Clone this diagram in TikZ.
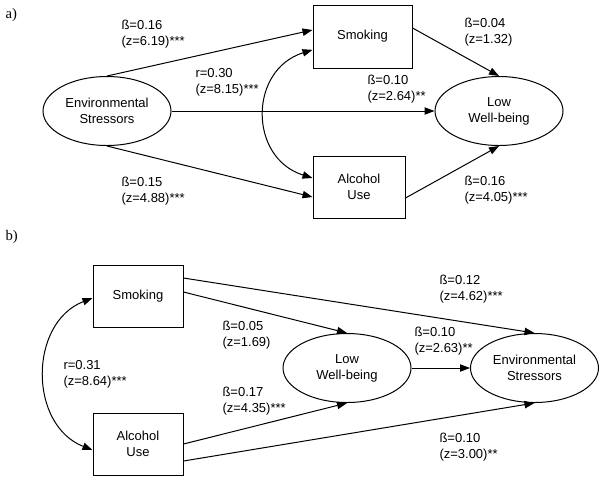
\documentclass[tikz,border=0pt]{standalone}
\usepackage{fontspec}
\setmainfont{Liberation Sans}
\newfontfamily\panelfont{Liberation Serif}
\usetikzlibrary{arrows.meta,shapes.geometric}

\tikzset{every picture/.style={line width=0.75pt}}
\tikzset{
  varbox/.style={draw, rectangle, align=center, inner sep=0pt, font=\fontsize{9.75}{12}\selectfont},
  varell/.style={draw, ellipse, align=center, inner sep=0pt, minimum width=96pt, minimum height=51.75pt, font=\fontsize{9.75}{12}\selectfont},
  coef/.style={anchor=west, inner sep=0.75pt, align=left, font=\fontsize{9.75}{12}\selectfont},
  panel/.style={anchor=west, inner sep=0.75pt, font=\panelfont\fontsize{11}{13}\selectfont},
  arr/.style={-{Triangle[length=7.5pt,width=5.5pt]}},
  covarr/.style={{Triangle[length=7.5pt,width=5.5pt]}-{Triangle[length=7.5pt,width=5.5pt]}}
}

\begin{document}
\begin{tikzpicture}[x=0.75pt,y=0.75pt,yscale=-1,xscale=1]
\useasboundingbox (0,0) rectangle (603,480);

%%%%%%%% panel a
\draw (4,15) node (pa) [panel] {a)};

%Shape: Ellipse
\node (envA) [varell] at (107,111) {Environmental\\Stressors};
\node (lowA) [varell] at (499,111) {Low\\Well-being};
%Shape: Rectangle
\node (smkA) [varbox, minimum width=74.25pt, minimum height=47.25pt] at (362.5,36.5) {Smoking};
\node (alcA) [varbox, minimum width=69pt, minimum height=46.5pt] at (359,187) {Alcohol\\Use};

%Straight Lines (yshift counts downwards here, as yscale=-1)
\draw [arr] (envA.north) -- ([yshift=-4.9pt]smkA.west);
\draw [arr] (envA.south) -- ([yshift=7.5pt]alcA.west);
\draw [arr] (envA.east) -- (lowA.west);
\draw [arr] ([yshift=-6.4pt]smkA.east) -- (lowA.north);
\draw [arr] ([yshift=8.25pt]alcA.east) -- (lowA.south);
%Curve Lines
\draw [covarr] ([yshift=10pt]smkA.west) .. controls +(-64,20) and +(-64,-20) .. ([yshift=-6.75pt]alcA.west);

% Text Node
\draw (120,34) node (bEsSm) [coef] {ß=0.16\\(z=6.19)***};
\draw (194,82.5) node (rSmAl) [coef] {r=0.30\\(z=8.15)***};
\draw (120,191.5) node (bEsAl) [coef] {ß=0.15\\(z=4.88)***};
\draw (463,32.5) node (bSmLw) [coef] {ß=0.04\\(z=1.32)};
\draw (366,89) node (bEsLw) [coef] {ß=0.10\\(z=2.64)**};
\draw (463,190.5) node (bAlLw) [coef] {ß=0.16\\(z=4.05)***};

%%%%%%%% panel b
\draw (4,237) node (pb) [panel] {b)};

%Shape: Rectangle
\node (smkB) [varbox, minimum width=67.5pt, minimum height=46.5pt] at (138,296) {Smoking};
\node (alcB) [varbox, minimum width=67.5pt, minimum height=46.5pt] at (138,444) {Alcohol\\Use};
%Shape: Ellipse
\node (lowB) [varell] at (347,368) {Low\\Well-being};
\node (envB) [varell] at (534.5,368) {Environmental\\Stressors};

%Straight Lines
\draw [arr] ([yshift=-13.5pt]smkB.east) -- (envB.north);
\draw [arr] ([yshift=-3pt]smkB.east) -- (lowB.north);
\draw [arr] (alcB.east) -- (lowB.south);
\draw [arr] ([yshift=12.75pt]alcB.east) -- (envB.south);
\draw [arr] (lowB.east) -- (envB.west);
%Curve Lines
\draw [covarr] ([yshift=1.5pt]smkB.west) .. controls +(-64,25) and +(-64,-25) .. ([yshift=4.5pt]alcB.west);

% Text Node
\draw (438,289.5) node (bSmEs) [coef] {ß=0.12\\(z=4.62)***};
\draw (221,335.5) node (bSmLwB) [coef] {ß=0.05\\(z=1.69)};
\draw (62,374.5) node (rSmAlB) [coef] {r=0.31\\(z=8.64)***};
\draw (221,401) node (bAlLwB) [coef] {ß=0.17\\(z=4.35)***};
\draw (413,341) node (bLwEs) [coef] {ß=0.10\\(z=2.63)**};
\draw (438,447.5) node (bAlEs) [coef] {ß=0.10\\(z=3.00)**};

\end{tikzpicture}
\end{document}
